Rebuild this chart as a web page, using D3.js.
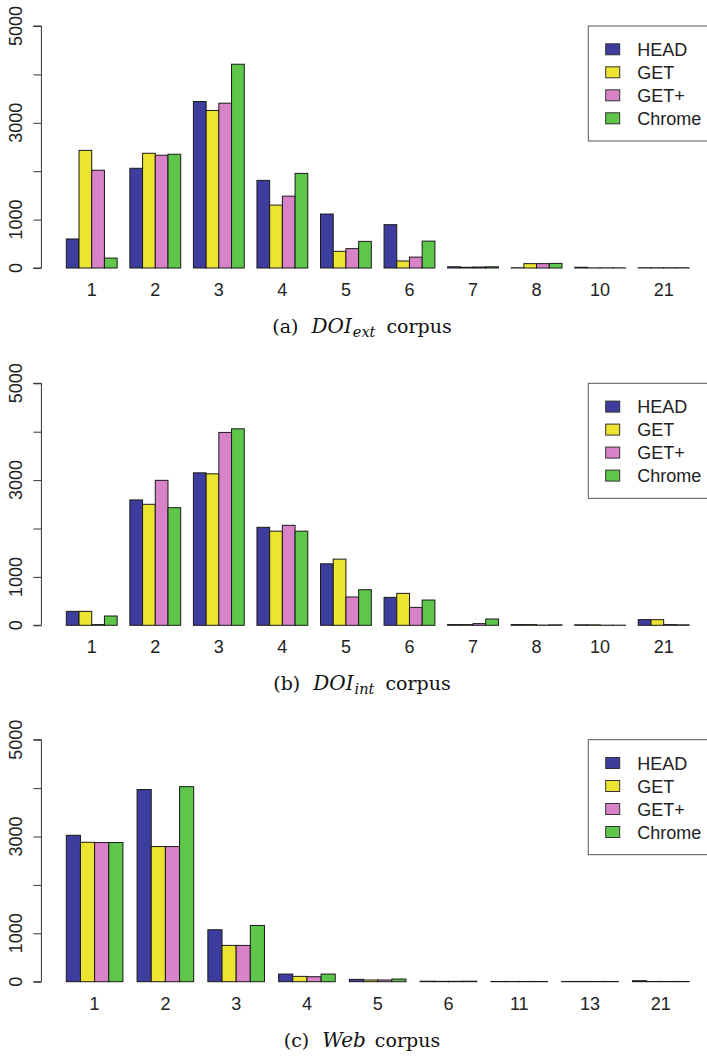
<!DOCTYPE html>
<html>
<head>
<meta charset="utf-8">
<script src="https://cdn.jsdelivr.net/npm/d3@7"></script>
<style>
  body { margin: 0; background: #fff; }
  svg { display: block; }
</style>
</head>
<body>
<svg id="chart" width="707" height="1059"></svg>
<script>
// request methods (legend order)
const series = ["HEAD", "GET", "GET+", "Chrome"];
const colors = ["#3d3d9e", "#ede432", "#d882c8", "#5ec64b"];

const yTicks = [0, 1000, 2000, 3000, 4000, 5000];
const yTickLabels = ["0", "1000", "", "3000", "", "5000"];

// (a) DOI ext
const catsA = ["1", "2", "3", "4", "5", "6", "7", "8", "10", "21"];
const headA = [600, 2060, 3440, 1810, 1115, 895, 25, 5, 15, 5];
const getA = [2430, 2370, 3255, 1300, 345, 145, 15, 90, 3, 5];
const getPlusA = [2020, 2330, 3405, 1485, 400, 225, 20, 90, 3, 5];
const chromeA = [205, 2350, 4210, 1955, 550, 555, 25, 95, 3, 5];

// (b) DOI int
const catsB = ["1", "2", "3", "4", "5", "6", "7", "8", "10", "21"];
const headB = [288, 2590, 3150, 2025, 1270, 577, 15, 15, 10, 117];
const getB = [288, 2500, 3130, 1945, 1367, 660, 15, 15, 10, 117];
const getPlusB = [15, 2995, 3985, 2065, 585, 370, 35, 5, 3, 15];
const chromeB = [192, 2430, 4060, 1945, 735, 522, 130, 10, 3, 10];

// (c) Web
const catsC = ["1", "2", "3", "4", "5", "6", "11", "13", "21"];
const headC = [3025, 3970, 1073, 158, 48, 10, 5, 5, 20];
const getC = [2880, 2792, 750, 110, 35, 8, 5, 5, 5];
const getPlusC = [2875, 2792, 750, 103, 35, 8, 5, 5, 5];
const chromeC = [2875, 4030, 1162, 158, 55, 10, 5, 5, 5];

const panels = [
  { cats: catsA, values: [headA, getA, getPlusA, chromeA], label: "a", sub: ["DOI", "ext"], offset: 0 },
  { cats: catsB, values: [headB, getB, getPlusB, chromeB], label: "b", sub: ["DOI", "int"], offset: 357.3 },
  { cats: catsC, values: [headC, getC, getPlusC, chromeC], label: "c", sub: ["Web", ""], offset: 713.7 }
];

const svg = d3.select("#chart");
const sans = "'Liberation Sans', Arial, Helvetica, sans-serif";
const serif = "'DejaVu Serif', 'Liberation Serif', serif";
const plotLeft = 41.4, plotRight = 714;
const baseY = 268, topY = 26;

panels.forEach((p) => {
  const n = p.cats.length;
  const span = 5 * n;
  const g = svg.append("g").attr("transform", `translate(0,${p.offset})`);

  // R barplot style: space = c(0,1), 4% padding
  const x = d3
    .scaleLinear()
    .domain([1 - 0.04 * (span - 1), span + 0.04 * (span - 1)])
    .range([plotLeft, plotRight]);
  const y = d3.scaleLinear().domain([0, 5000]).range([baseY, topY]);

  // bars
  p.values.forEach((vals, si) => {
    g.append("g")
      .attr("fill", colors[si])
      .attr("stroke", "#1a1a1a")
      .attr("stroke-width", 1)
      .selectAll("rect")
      .data(vals)
      .join("rect")
      .attr("x", (d, j) => x(j * 5 + 1 + si))
      .attr("width", (d, j) => x(j * 5 + 2 + si) - x(j * 5 + 1 + si))
      .attr("y", (d) => y(d))
      .attr("height", (d) => y(0) - y(d));
  });

  // x labels (no axis line, like names.arg)
  g.append("g")
    .attr("font-family", sans)
    .attr("font-size", 18)
    .attr("fill", "#222")
    .attr("text-anchor", "middle")
    .selectAll("text")
    .data(p.cats)
    .join("text")
    .attr("x", (d, j) => x(j * 5 + 3))
    .attr("y", 296)
    .text((d) => d);

  // y axis
  const yAxis = g
    .append("g")
    .attr("transform", `translate(${plotLeft},0)`)
    .call(d3.axisLeft(y).tickValues(yTicks).tickSize(8).tickFormat(() => ""));
  yAxis.selectAll("path, line").attr("stroke", "#333").attr("stroke-width", 1);
  yAxis.select(".domain").attr("d", `M-8,${y(0)}H0V${y(5000)}H-8`);

  g.append("g")
    .attr("font-family", sans)
    .attr("font-size", 18)
    .attr("fill", "#222")
    .attr("text-anchor", "middle")
    .selectAll("text")
    .data(yTicks)
    .join("text")
    .attr("transform", (d) => `translate(21.5,${y(d)}) rotate(-90)`)
    .text((d, i) => yTickLabels[i]);

  // legend
  const lg = g.append("g").attr("transform", `translate(588.3,${topY})`);
  lg.append("rect")
    .attr("width", 140)
    .attr("height", 115)
    .attr("fill", "#fff")
    .attr("stroke", "#555")
    .attr("stroke-width", 1);
  const rows = lg
    .selectAll("g.row")
    .data(series)
    .join("g")
    .attr("class", "row")
    .attr("transform", (d, i) => `translate(0,${23.3 + i * 23})`);
  rows.append("rect")
    .attr("x", 17.4)
    .attr("y", -5.5)
    .attr("width", 14)
    .attr("height", 11)
    .attr("fill", (d, i) => colors[i])
    .attr("stroke", "#333");
  rows.append("text")
    .attr("x", 49)
    .attr("y", 6.5)
    .attr("font-family", sans)
    .attr("font-size", 18)
    .attr("fill", "#222")
    .text((d) => d);

  // caption: pieces laid out left to right, then centred
  const pieces = [
    { t: `(${p.label})`, italic: false, size: 19, dy: 0, gap: 0 },
    { t: p.sub[0], italic: true, size: 20, dy: 0, gap: 13 },
    { t: p.sub[1], italic: true, size: 14.5, dy: 4, gap: 1 },
    { t: "corpus", italic: false, size: 19, dy: 0, gap: p.sub[1] ? 11 : 9 }
  ];
  const cap = g.append("g").attr("font-family", serif).attr("fill", "#111");
  let cx = 0;
  pieces.forEach((pc) => {
    if (!pc.t) return;
    cx += pc.gap;
    const t = cap.append("text")
      .attr("x", cx)
      .attr("y", 333 + pc.dy)
      .attr("font-size", pc.size)
      .attr("font-style", pc.italic ? "italic" : "normal")
      .text(pc.t);
    cx += t.node().getComputedTextLength();
  });
  cap.attr("transform", `translate(${362 - cx / 2},0)`);
});
</script>
</body>
</html>
